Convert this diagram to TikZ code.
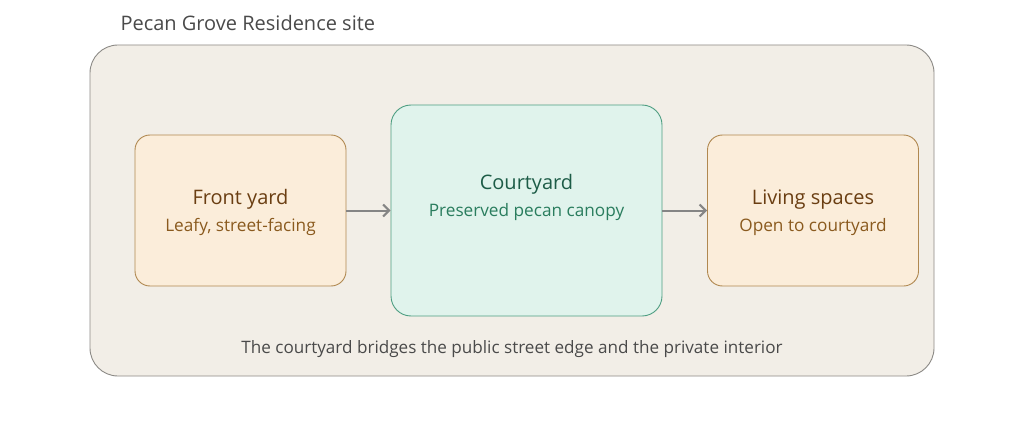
\documentclass[tikz,border=0pt]{standalone}
\usepackage{fontspec}
\setmainfont{Open Sans}
\usetikzlibrary{arrows.meta}
\definecolor{sitefill}{HTML}{F2EEE7}
\definecolor{sitedraw}{HTML}{8C8A86}
\definecolor{yardfill}{HTML}{FBEDDA}
\definecolor{yarddraw}{HTML}{B08850}
\definecolor{yardtext}{HTML}{6A3E12}
\definecolor{yardsub}{HTML}{8A5A1E}
\definecolor{courtfill}{HTML}{E0F3EC}
\definecolor{courtdraw}{HTML}{4E9E82}
\definecolor{courttext}{HTML}{1D5C47}
\definecolor{courtsub}{HTML}{2A7D5E}
\definecolor{labeltext}{HTML}{4A4A4A}
\definecolor{arrowcol}{HTML}{858585}
\tikzset{
  sitebox/.style={draw=sitedraw, fill=sitefill, rounded corners=28pt, line width=0.9pt},
  yardbox/.style={draw=yarddraw, fill=yardfill, rounded corners=15pt, line width=0.9pt, minimum width=211pt, minimum height=151pt, align=center},
  courtbox/.style={draw=courtdraw, fill=courtfill, rounded corners=20pt, line width=0.9pt, minimum width=271pt, minimum height=211pt, align=center},
  flow/.style={draw=arrowcol, line width=2pt, -{Straight Barb[length=6pt,width=12pt]}},
  headtext/.style={font=\fontsize{20}{24}\selectfont},
  subtext/.style={font=\fontsize{17.2}{20}\selectfont},
  titletext/.style={font=\fontsize{20}{24}\selectfont, text=labeltext},
  notetext/.style={font=\fontsize{17.1}{20}\selectfont, text=labeltext}
}
\begin{document}
\begin{tikzpicture}[x=1pt,y=-1pt]
\useasboundingbox (0,0) rectangle (1024,422);
\fill[white] (0,0) rectangle (1024,422);
\node[titletext, anchor=west] (title) at (117,23) {Pecan Grove Residence site};
\draw[sitebox] (90,45) rectangle (934,376);
\node[yardbox] (front) at (240.5,210.5) {};
\node[courtbox] (court) at (526.5,210.5) {};
\node[yardbox] (living) at (813,210.5) {};
\node[headtext, text=yardtext] (fronttitle) at (240.5,199.5) {Front yard};
\node[subtext, text=yardsub] (frontsub) at (240.5,227) {Leafy, street-facing};
\node[headtext, text=courttext] (courttitle) at (526.5,184.5) {Courtyard};
\node[subtext, text=courtsub] (courtsub) at (526.5,212.5) {Preserved pecan canopy};
\node[headtext, text=yardtext] (livingtitle) at (813,199.5) {Living spaces};
\node[subtext, text=yardsub] (livingsub) at (813,227) {Open to courtyard};
\draw[flow] (front.east) -- (court.west);
\draw[flow] (court.east) -- (living.west);
\node[notetext] (note) at (512,349) {The courtyard bridges the public street edge and the private interior};
\end{tikzpicture}
\end{document}
